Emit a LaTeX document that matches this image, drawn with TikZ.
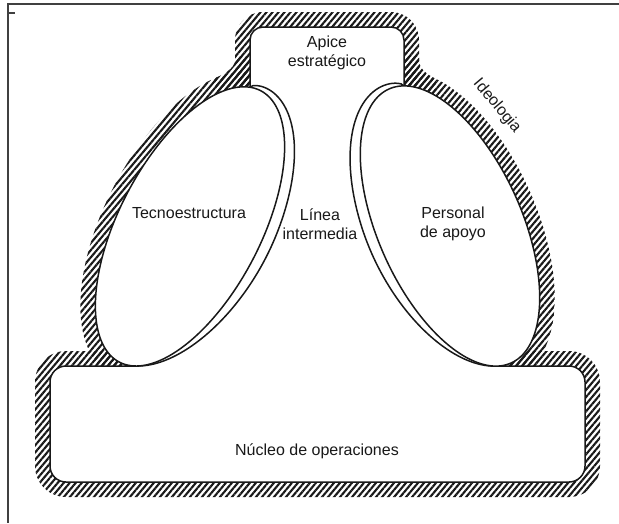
\documentclass[tikz,border=0pt]{standalone}
\usepackage{fontspec}
\setmainfont{Liberation Sans}
\usetikzlibrary{patterns.meta}
\begin{document}
\begin{tikzpicture}[x=1pt,y=-1pt,
  declare function={
    ex(\tv,\Av,\Bv,\dv)=(\Av+\dv*\Bv/veclen(\Bv*cos(\tv),\Av*sin(\tv)))*cos(\tv);
    ey(\tv,\Av,\Bv,\dv)=(\Bv+\dv*\Av/veclen(\Bv*cos(\tv),\Av*sin(\tv)))*sin(\tv);
    lx(\tv,\dv)=190+ex(\tv,153,71,\dv)*0.4617+ey(\tv,153,71,\dv)*0.8870;
    ly(\tv,\dv)=226.4-ex(\tv,153,71,\dv)*0.8870+ey(\tv,153,71,\dv)*0.4617;
    rx(\tv,\dv)=450-ex(\tv,150,72,\dv)*0.4067-ey(\tv,150,72,\dv)*0.9135;
    ry(\tv,\dv)=226-ex(\tv,150,72,\dv)*0.9135+ey(\tv,150,72,\dv)*0.4067;
    prof(\wv)=11*sqrt(abs(sin(\wv)))*ifthenelse(\wv<90,1,abs(sin(\wv)));
  },
  outline/.style={line width=1.5pt, draw=black!90},
  hatch/.style={pattern={Lines[angle=50,distance=4.6pt,line width=2.1pt]}, pattern color=black!90},
  lbl/.style={font=\fontsize{16}{18.5}\selectfont, align=center, text=black!90, inner sep=0pt},
  frameline/.style={line width=1.6pt, draw=black!75}]
\useasboundingbox (0,0) rectangle (619,523);
% frame of the scan
\coordinate (f1) at (619,4);
\coordinate (f2) at (8,4);
\coordinate (f3) at (8,523);
\coordinate (t1) at (8,13);
\coordinate (t2) at (15,13);
\draw[frameline] (f1) -- (f2) -- (f3);
\draw[frameline] (t1) -- (t2);
% ---------- hatched band (ideology) ----------
\fill[hatch, rounded corners=28] (235,12) rectangle (419,100);
\fill[hatch, rounded corners=31] (35,351) rectangle (600,497);
\fill[hatch] plot[domain=0:360, samples=121, variable=\t] ({lx(\t,15)},{ly(\t,15)}) -- cycle;
\fill[hatch] plot[domain=0:360, samples=121, variable=\t] ({rx(\t,15)},{ry(\t,15)}) -- cycle;
% fillets at the apex junctions
\fill[hatch] (235,56) -- (235,60) .. controls (235,69) and (222,75) .. (213.6,78.8)
   -- (225,120) -- (255,120) -- (255,56) -- cycle;
\fill[hatch] (419,56) -- (419,60) .. controls (419,69) and (427.7,74.9) .. (436.7,79.3)
   -- (430,120) -- (399,120) -- (399,56) -- cycle;
% ---------- white interiors ----------
\fill[white, rounded corners=13] (250,27) rectangle (404,115);
\fill[white, rounded corners=16] (50,366) rectangle (585,482);
\fill[white] (260.6,90.7) -- (260.6,70) -- (389,70) -- (389,89) -- (511,363)
   -- (495.8,366) -- (136.2,366) -- (119.4,362.1) -- cycle;
% ---------- the two lines of the middle line ----------
\begin{scope}
  \clip (0,0) rectangle (619,366);
  \draw[outline] plot[domain=-9:166.4, samples=90, variable=\t]
     ({lx(\t,prof((\t+9)/175.4*180))},{ly(\t,prof((\t+9)/175.4*180))});
  \draw[outline] plot[domain=-12:167.9, samples=90, variable=\t]
     ({rx(\t,prof((\t+12)/179.9*180))},{ry(\t,prof((\t+12)/179.9*180))});
\end{scope}
% ---------- apex and base outlines ----------
\coordinate (a1) at (250,88);
\coordinate (a2) at (250,27);
\coordinate (a3) at (404,27);
\coordinate (a4) at (404,87);
\draw[outline, rounded corners=13] (a1) -- (a2) -- (a3) -- (a4);
\coordinate (b1) at (137,366);
\coordinate (b2) at (50,366);
\coordinate (b3) at (50,482);
\coordinate (b4) at (585,482);
\coordinate (b5) at (585,366);
\coordinate (b6) at (495,366);
\draw[outline, rounded corners=16] (b1) -- (b2) -- (b3) -- (b4) -- (b5) -- (b6);
% ---------- the two ellipses ----------
\filldraw[outline, fill=white] plot[domain=0:360, samples=181, variable=\t] ({lx(\t,0)},{ly(\t,0)}) -- cycle;
\filldraw[outline, fill=white] plot[domain=0:360, samples=181, variable=\t] ({rx(\t,0)},{ry(\t,0)}) -- cycle;
% ---------- labels ----------
\node[lbl] (apex) at (327,53) {Apice\\estratégico};
\node[lbl] (tecno) at (189,213) {Tecnoestructura};
\node[lbl] (linea) at (320,224) {Línea\\intermedia};
\node[lbl] (pers) at (453,224) {Personal\\de apoyo};
\node[lbl] (nucleo) at (317,451) {Núcleo de operaciones};
\node[lbl, rotate=-50] (ideo) at (497,106) {Ideologia};
\end{tikzpicture}
\end{document}
